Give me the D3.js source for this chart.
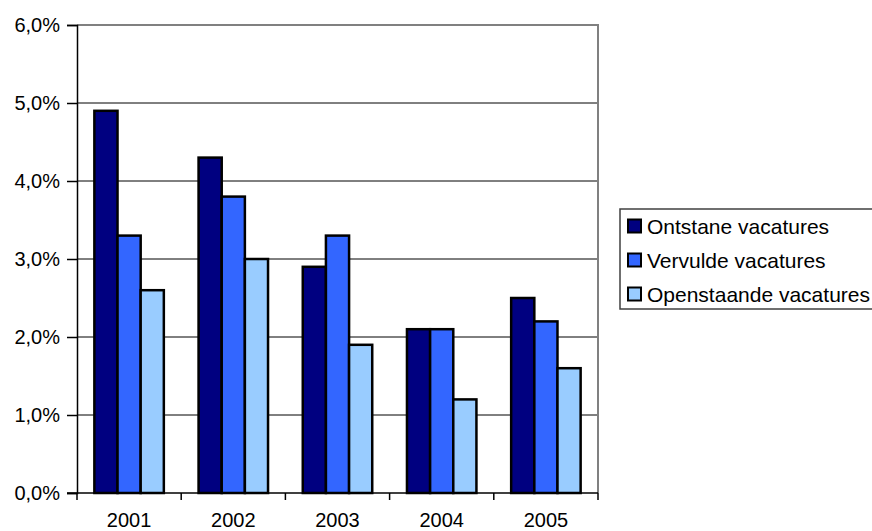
<!DOCTYPE html>
<html>
  <head>
    <meta charset="UTF-8" />
    <title>Vacatures 2001-2005</title>
    <style>
      body { margin: 0; background: #fff; }
      svg { display: block; font-family: Arial, "Liberation Sans", sans-serif; }
    </style>
  </head>
  <body>
    <svg width="872" height="531"></svg>

    <script src="https://d3js.org/d3.v7.min.js"></script>
    <script>
      // chart data
      const years = ["2001", "2002", "2003", "2004", "2005"];
      const seriesNames = ["Ontstane vacatures", "Vervulde vacatures", "Openstaande vacatures"];
      const ontstane = [4.9, 4.3, 2.9, 2.1, 2.5];
      const vervulde = [3.3, 3.8, 3.3, 2.1, 2.2];
      const openstaande = [2.6, 3.0, 1.9, 1.2, 1.6];
      const yTicks = [0, 1, 2, 3, 4, 5, 6];
      const colors = ["#000080", "#3366ff", "#99ccff"];

      const allSeries = [ontstane, vervulde, openstaande];

      let svg = d3.select("svg");
      const plotLeft = 77, plotRight = 598, plotTop = 25, plotBottom = 493;

      let x = d3.scaleBand().domain(years).range([plotLeft, plotRight]).paddingInner(1.5 / 4.5).paddingOuter(0.75 / 4.5);
      let xInner = d3.scaleBand().domain([0, 1, 2]).range([0, x.bandwidth()]);
      let y = d3.scaleLinear().domain([0, 6]).range([plotBottom, plotTop]);

      // gridlines
      svg.append("g")
        .selectAll("line")
        .data(yTicks.filter((d) => d > 0 && d < 6))
        .enter()
        .append("line")
        .attr("x1", plotLeft)
        .attr("x2", plotRight)
        .attr("y1", (d) => y(d))
        .attr("y2", (d) => y(d))
        .attr("stroke", "#000")
        .attr("stroke-width", 1);

      // plot border top / right (grey)
      svg.append("path")
        .attr("d", `M${plotLeft},${y(6)}H${plotRight}V${plotBottom}`)
        .attr("fill", "none")
        .attr("stroke", "#808080")
        .attr("stroke-width", 2);

      // bars
      years.forEach((yr, i) => {
        allSeries.forEach((s, j) => {
          svg.append("rect")
            .attr("x", x(yr) + xInner(j))
            .attr("y", y(s[i]))
            .attr("width", xInner.bandwidth())
            .attr("height", y(0) - y(s[i]))
            .attr("fill", colors[j])
            .attr("stroke", "#000")
            .attr("stroke-width", 2.5);
        });
      });

      // y axis
      let yAxis = d3.axisLeft(y)
        .tickValues(yTicks)
        .tickSize(10)
        .tickPadding(7)
        .tickFormat((d) => d.toFixed(1).replace(".", ",") + "%");
      let gy = svg.append("g").attr("transform", `translate(${plotLeft},0)`).call(yAxis);
      gy.select(".domain").attr("stroke", "#000").attr("stroke-width", 1.5);
      gy.selectAll(".tick line").attr("stroke", "#000").attr("stroke-width", 1.5);
      gy.selectAll(".tick text").attr("font-size", 20).attr("fill", "#000").attr("font-family", "Arial, 'Liberation Sans', sans-serif");

      // x axis
      let gx = svg.append("g").attr("transform", `translate(0,${plotBottom})`);
      gx.append("line").attr("x1", plotLeft - 10).attr("x2", plotRight).attr("stroke", "#000").attr("stroke-width", 1.5);
      let step = (plotRight - plotLeft) / years.length;
      gx.selectAll(".cat-tick")
        .data(d3.range(years.length + 1))
        .enter()
        .append("line")
        .attr("x1", (d) => plotLeft + d * step)
        .attr("x2", (d) => plotLeft + d * step)
        .attr("y1", 0)
        .attr("y2", 7)
        .attr("stroke", "#000")
        .attr("stroke-width", 1.5);
      gx.selectAll("text")
        .data(years)
        .enter()
        .append("text")
        .attr("x", (d) => x(d) + x.bandwidth() / 2)
        .attr("y", 34)
        .attr("text-anchor", "middle")
        .attr("font-size", 20)
        .text((d) => d);

      // legend
      let legend = svg.append("g").attr("transform", "translate(620,209)");
      legend.append("rect")
        .attr("width", 300)
        .attr("height", 100)
        .attr("fill", "#fff")
        .attr("stroke", "#404040")
        .attr("stroke-width", 1.5);
      seriesNames.forEach((name, j) => {
        let cy = 17 + j * 34;
        legend.append("rect")
          .attr("x", 8)
          .attr("y", cy - 6.5)
          .attr("width", 13)
          .attr("height", 13)
          .attr("fill", colors[j])
          .attr("stroke", "#000")
          .attr("stroke-width", 2);
        legend.append("text")
          .attr("x", 27)
          .attr("y", cy + 7.5)
          .attr("font-size", 21)
          .text(name);
      });
    </script>
  </body>
</html>
